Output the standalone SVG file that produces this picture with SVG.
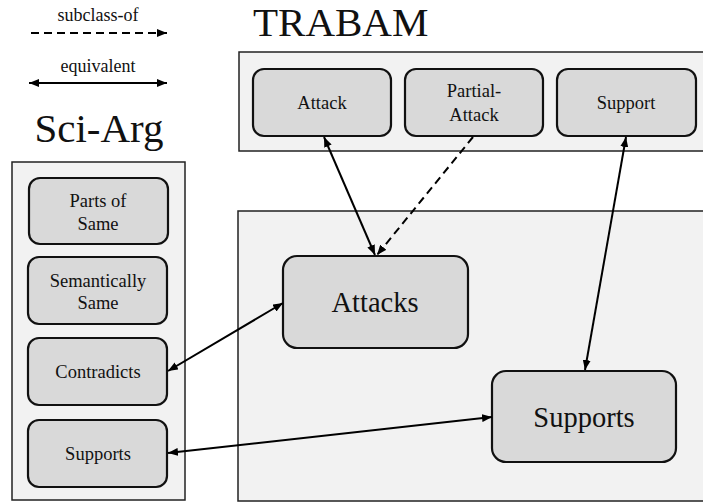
<svg xmlns="http://www.w3.org/2000/svg" width="703" height="502" viewBox="0 0 703 502" font-family="Liberation Serif, DejaVu Serif, serif">
<style>
  .bg { fill: #ffffff; }
  .container { fill: #f2f2f2; stroke: #222; stroke-width: 1.5; }
  .node { fill: #d9d9d9; stroke: #111; stroke-width: 2.2; }
  text { font-family: 'Liberation Serif', 'DejaVu Serif', serif; fill: #111; text-anchor: middle; }
  .small { font-size: 18.5px; }
  .big { font-size: 28.5px; }
  .title { font-size: 41px; }
  .legend { font-size: 18px; }
  .conn { stroke: #000; stroke-width: 2; fill: none; }
  .dash { stroke-dasharray: 8 5; }
</style>
<defs>
  <marker id="ah" viewBox="0 0 10 8" refX="10" refY="4" markerWidth="10" markerHeight="8" markerUnits="userSpaceOnUse" orient="auto-start-reverse">
    <path d="M0,0 L10,4 L0,8 z" fill="#000"/>
  </marker>
</defs>
<rect class="bg" x="0" y="0" width="703" height="502"/>

<g id="legend">
  <text class="legend" x="98" y="21">subclass-of</text>
  <line class="conn dash" x1="31" y1="33" x2="167" y2="33" marker-end="url(#ah)"/>
  <text class="legend" x="98" y="72">equivalent</text>
  <line class="conn" x1="29" y1="83" x2="167" y2="83" marker-start="url(#ah)" marker-end="url(#ah)"/>
</g>

<g id="sciarg-group">
  <text class="title" x="99" y="142">Sci-Arg</text>
  <rect class="container" x="12" y="162" width="173" height="338"/>
</g>

<g id="trabam-group">
  <text class="title" x="253" y="36" style="text-anchor:start">TRABAM</text>
  <rect class="container" x="239" y="52" width="470" height="99"/>
</g>

<g id="target-group">
  <rect class="container" x="238" y="211" width="470" height="290"/>
</g>

<g id="trabam-attack">
  <rect class="node" x="253" y="69" width="138" height="67" rx="11"/>
  <text class="small" x="322" y="109">Attack</text>
</g>
<g id="trabam-partial-attack">
  <rect class="node" x="405" y="69" width="138" height="67" rx="11"/>
  <text class="small" x="474" y="97">Partial-</text>
  <text class="small" x="474" y="121">Attack</text>
</g>
<g id="trabam-support">
  <rect class="node" x="557" y="69" width="139" height="67" rx="11"/>
  <text class="small" x="626" y="109">Support</text>
</g>

<g id="sciarg-parts-of-same">
  <rect class="node" x="29" y="178" width="139" height="66" rx="11"/>
  <text class="small" x="98" y="207">Parts of</text>
  <text class="small" x="98" y="230">Same</text>
</g>
<g id="sciarg-semantically-same">
  <rect class="node" x="28" y="257" width="139" height="67" rx="11"/>
  <text class="small" x="98" y="287">Semantically</text>
  <text class="small" x="98" y="309">Same</text>
</g>
<g id="sciarg-contradicts">
  <rect class="node" x="28" y="338" width="139" height="67" rx="11"/>
  <text class="small" x="98" y="378">Contradicts</text>
</g>
<g id="sciarg-supports">
  <rect class="node" x="28" y="420" width="139" height="67" rx="11"/>
  <text class="small" x="98" y="460">Supports</text>
</g>

<g id="attacks">
  <rect class="node" x="283" y="256" width="185" height="92" rx="14"/>
  <text class="big" x="375" y="312">Attacks</text>
</g>
<g id="supports">
  <rect class="node" x="492" y="371" width="184" height="91" rx="14"/>
  <text class="big" x="584" y="427">Supports</text>
</g>

<g id="connectors">
  <line class="conn" x1="324" y1="137" x2="375" y2="255" marker-start="url(#ah)" marker-end="url(#ah)"/>
  <line class="conn dash" x1="473" y1="137" x2="377" y2="255" marker-end="url(#ah)"/>
  <line class="conn" x1="626" y1="137" x2="585" y2="370" marker-start="url(#ah)" marker-end="url(#ah)"/>
  <line class="conn" x1="168" y1="371" x2="283" y2="303" marker-start="url(#ah)" marker-end="url(#ah)"/>
  <line class="conn" x1="168" y1="453" x2="492" y2="417" marker-start="url(#ah)" marker-end="url(#ah)"/>
</g>
</svg>
